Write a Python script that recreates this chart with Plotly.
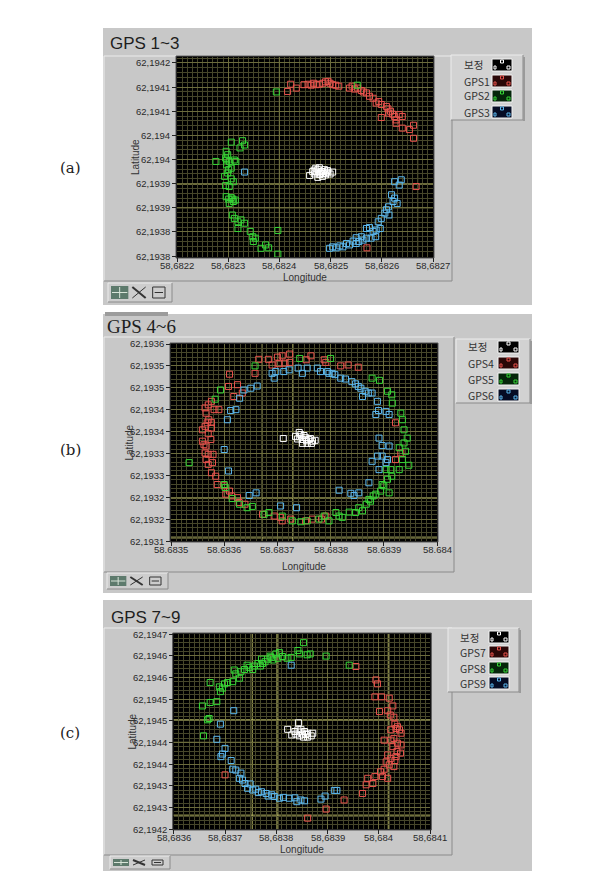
import plotly.graph_objects as go

# ---------------- data ----------------
SERIES_COLORS = ["#ffffff", "#e8534d", "#36d636", "#5cb8ee"]

# Panel (a) GPS 1~3
a_names = ["보정", "GPS1", "GPS2", "GPS3"]
a_ref = [(58.682459, 62.193967), (58.682465, 62.193975), (58.682471, 62.193982), (58.682475, 62.193979),
         (58.682480, 62.193972), (58.682485, 62.193975), (58.682490, 62.193968), (58.682495, 62.193974),
         (58.682499, 62.193970), (58.682504, 62.193974), (58.682475, 62.193963), (58.682484, 62.193965),
         (58.682469, 62.193970), (58.682488, 62.193979), (58.682478, 62.193983), (58.682482, 62.193975),
         (58.682472, 62.193974), (58.682491, 62.193972), (58.682478, 62.193969), (58.682486, 62.193971),
         (58.682494, 62.193977), (58.682468, 62.193978)]
a_gps1 = [(58.682416, 62.194141), (58.682422, 62.194156), (58.682433, 62.194148), (58.682448, 62.194155),
          (58.682456, 62.194156), (58.682462, 62.194154), (58.682467, 62.194158), (58.682472, 62.194155),
          (58.682478, 62.194156), (58.682485, 62.194158), (58.682490, 62.194161), (58.682495, 62.194162),
          (58.682499, 62.194158), (58.682504, 62.194155), (58.682510, 62.194154), (58.682516, 62.194152),
          (58.682537, 62.194148), (58.682542, 62.194152), (58.682547, 62.194146), (58.682553, 62.194148),
          (58.682560, 62.194143), (58.682564, 62.194140), (58.682570, 62.194138), (58.682576, 62.194131),
          (58.682583, 62.194127), (58.682589, 62.194117), (58.682594, 62.194120), (58.682599, 62.194114),
          (58.682609, 62.194110), (58.682612, 62.194105), (58.682617, 62.194100), (58.682621, 62.194094),
          (58.682625, 62.194089), (58.682628, 62.194082), (58.682634, 62.194093), (58.682640, 62.194089),
          (58.682628, 62.194075), (58.682640, 62.194065), (58.682654, 62.194062), (58.682662, 62.194071),
          (58.682662, 62.194044), (58.682667, 62.193944), (58.682571, 62.193817), (58.682599, 62.194087),
          (58.682613, 62.194096)]
a_gps2 = [(58.682394, 62.194140), (58.682552, 62.194154), (58.682397, 62.193853), (58.682397, 62.193804),
          (58.682276, 62.193996), (58.682306, 62.194036), (58.682328, 62.194039), (58.682332, 62.194030),
          (58.682323, 62.194024), (58.682296, 62.194017), (58.682299, 62.194010), (58.682295, 62.194003),
          (58.682302, 62.193996), (58.682297, 62.193989), (58.682306, 62.193982), (58.682315, 62.193996),
          (58.682312, 62.193999), (58.682299, 62.193972), (58.682293, 62.193965), (58.682306, 62.193960),
          (58.682310, 62.193954), (58.682295, 62.193946), (58.682302, 62.193944), (58.682296, 62.193923),
          (58.682301, 62.193918), (58.682306, 62.193921), (58.682310, 62.193913), (58.682314, 62.193916),
          (58.682302, 62.193909), (58.682308, 62.193885), (58.682312, 62.193878), (58.682319, 62.193871),
          (58.682325, 62.193875), (58.682332, 62.193868), (58.682319, 62.193857), (58.682343, 62.193851),
          (58.682348, 62.193840), (58.682353, 62.193837), (58.682349, 62.193830), (58.682364, 62.193816),
          (58.682373, 62.193823), (58.682379, 62.193817), (58.682297, 62.193999), (58.682301, 62.193979),
          (58.682309, 62.193918)]
a_gps3 = [(58.682332, 62.193974), (58.682625, 62.193954), (58.682638, 62.193958), (58.682634, 62.193947),
          (58.682619, 62.193927), (58.682625, 62.193920), (58.682622, 62.193913), (58.682630, 62.193909),
          (58.682613, 62.193902), (58.682609, 62.193896), (58.682606, 62.193889), (58.682614, 62.193885),
          (58.682599, 62.193878), (58.682593, 62.193871), (58.682597, 62.193857), (58.682589, 62.193854),
          (58.682583, 62.193851), (58.682576, 62.193859), (58.682570, 62.193857), (58.682588, 62.193840),
          (58.682579, 62.193837), (58.682570, 62.193837), (58.682563, 62.193833), (58.682555, 62.193830),
          (58.682550, 62.193826), (58.682544, 62.193831), (58.682537, 62.193823), (58.682531, 62.193826),
          (58.682524, 62.193819), (58.682518, 62.193821), (58.682511, 62.193817), (58.682504, 62.193819),
          (58.682498, 62.193816), (58.682560, 62.193840), (58.682550, 62.193838)]
a_xticks = [58.6822, 58.6823, 58.6824, 58.6825, 58.6826, 58.6827]
a_xlabels = ["58,6822", "58,6823", "58,6824", "58,6825", "58,6826", "58,6827"]
a_yticks = [62.19380, 62.19385, 62.19390, 62.19395, 62.19400, 62.19405, 62.19410, 62.19415, 62.19420]
a_ylabels = ["62,1938", "62,1938", "62,1939", "62,1939", "62,194", "62,194", "62,1941", "62,1941", "62,1942"]
a_xrange = [58.6822, 58.6827]
a_yrange = [62.193798, 62.1942124]
a_cursor_lon = [58.6824, 58.68267]
a_cursor_lat = [62.194141, 62.193949, 62.1939]

# Panel (b) GPS 4~6
b_names = ["보정", "GPS4", "GPS5", "GPS6"]
b_ref = [(58.683711, 62.193334), (58.683741, 62.193348), (58.683734, 62.193339), (58.683742, 62.193338),
         (58.683747, 62.193332), (58.683753, 62.193336), (58.683759, 62.193332), (58.683766, 62.193328),
         (58.683771, 62.193330), (58.683747, 62.193323), (58.683756, 62.193323), (58.683764, 62.193323),
         (58.683744, 62.193343), (58.683750, 62.193341), (58.683738, 62.193333), (58.683755, 62.193329),
         (58.683762, 62.193334)]
b_gps4 = [(58.683665, 62.193515), (58.683683, 62.193515), (58.683700, 62.193520), (58.683709, 62.193523),
          (58.683723, 62.193527), (58.683714, 62.193506), (58.683723, 62.193508), (58.683703, 62.193505),
          (58.683690, 62.193502), (58.683658, 62.193483), (58.683610, 62.193481), (58.683754, 62.193514),
          (58.683763, 62.193523), (58.683788, 62.193514), (58.683791, 62.193508), (58.683819, 62.193500),
          (58.683833, 62.193502), (58.683852, 62.193497), (58.683625, 62.193457), (58.683608, 62.193453),
          (58.683634, 62.193438), (58.683618, 62.193430), (58.683576, 62.193419), (58.683570, 62.193411),
          (58.683564, 62.193404), (58.683581, 62.193400), (58.683590, 62.193400), (58.683566, 62.193392),
          (58.683571, 62.193377), (58.683568, 62.193370), (58.683576, 62.193371), (58.683564, 62.193362),
          (58.683559, 62.193354), (58.683570, 62.193345), (58.683576, 62.193358), (58.683559, 62.193328),
          (58.683562, 62.193320), (58.683566, 62.193317), (58.683575, 62.193332), (58.683564, 62.193301),
          (58.683570, 62.193298), (58.683579, 62.193298), (58.683570, 62.193275), (58.683578, 62.193279),
          (58.683566, 62.193286), (58.683576, 62.193256), (58.683584, 62.193248), (58.683587, 62.193229),
          (58.683600, 62.193226), (58.683610, 62.193214), (58.683603, 62.193207), (58.683614, 62.193203),
          (58.683625, 62.193199), (58.683628, 62.193188), (58.683639, 62.193184), (58.683672, 62.193161),
          (58.683694, 62.193157), (58.683706, 62.193154), (58.683725, 62.193150), (58.683709, 62.193146),
          (58.683753, 62.193146), (58.683766, 62.193150), (58.683783, 62.193150), (58.683791, 62.193157),
          (58.683932, 62.193301), (58.683922, 62.193286), (58.683922, 62.193370)]
b_gps5 = [(58.683658, 62.193500), (58.683593, 62.193445), (58.683583, 62.193424), (58.683534, 62.193279),
          (58.683600, 62.193229), (58.683602, 62.193222), (58.683615, 62.193197), (58.683629, 62.193184),
          (58.683643, 62.193176), (58.683653, 62.193179), (58.683675, 62.193161), (58.683684, 62.193165),
          (58.683709, 62.193157), (58.683728, 62.193146), (58.683744, 62.193144), (58.683756, 62.193146),
          (58.683778, 62.193150), (58.683788, 62.193157), (58.683797, 62.193146), (58.683810, 62.193165),
          (58.683816, 62.193157), (58.683822, 62.193154), (58.683835, 62.193166), (58.683847, 62.193165),
          (58.683853, 62.193176), (58.683860, 62.193169), (58.683867, 62.193184), (58.683875, 62.193191),
          (58.683880, 62.193203), (58.683885, 62.193207), (58.683894, 62.193214), (58.683900, 62.193226),
          (58.683910, 62.193210), (58.683897, 62.193229), (58.683907, 62.193241), (58.683915, 62.193248),
          (58.683904, 62.193263), (58.683913, 62.193263), (58.683929, 62.193263), (58.683947, 62.193273),
          (58.683935, 62.193286), (58.683941, 62.193305), (58.683929, 62.193313), (58.683938, 62.193324),
          (58.683944, 62.193335), (58.683938, 62.193354), (58.683935, 62.193377), (58.683932, 62.193392),
          (58.683916, 62.193415), (58.683907, 62.193442), (58.683915, 62.193434), (58.683892, 62.193467),
          (58.683878, 62.193472), (58.683800, 62.193517), (58.683742, 62.193517), (58.683872, 62.193195)]
b_gps6 = [(58.683690, 62.193483), (58.683694, 62.193472), (58.683697, 62.193487), (58.683712, 62.193487),
          (58.683722, 62.193491), (58.683739, 62.193495), (58.683747, 62.193483), (58.683756, 62.193495),
          (58.683775, 62.193495), (58.683781, 62.193487), (58.683794, 62.193487), (58.683797, 62.193483),
          (58.683803, 62.193483), (58.683808, 62.193480), (58.683819, 62.193472), (58.683828, 62.193470),
          (58.683840, 62.193464), (58.683847, 62.193459), (58.683852, 62.193453), (58.683857, 62.193449),
          (58.683865, 62.193442), (58.683871, 62.193438), (58.683878, 62.193438), (58.683860, 62.193430),
          (58.683888, 62.193419), (58.683890, 62.193398), (58.683885, 62.193389), (58.683904, 62.193396),
          (58.683910, 62.193389), (58.683891, 62.193335), (58.683897, 62.193318), (58.683910, 62.193317),
          (58.683888, 62.193294), (58.683897, 62.193294), (58.683907, 62.193286), (58.683904, 62.193279),
          (58.683891, 62.193263), (58.683872, 62.193233), (58.683853, 62.193210), (58.683838, 62.193209),
          (58.683816, 62.193216), (58.683844, 62.193204), (58.683662, 62.193454), (58.683650, 62.193449),
          (58.683637, 62.193445), (58.683629, 62.193426), (58.683612, 62.193398), (58.683622, 62.193400),
          (58.683606, 62.193377), (58.683600, 62.193309), (58.683608, 62.193260), (58.683647, 62.193204),
          (58.683660, 62.193210), (58.683706, 62.193180), (58.683736, 62.193176), (58.683878, 62.193282)]
b_xticks = [58.6835, 58.6836, 58.6837, 58.6838, 58.6839, 58.6840]
b_xlabels = ["58.6835", "58.6836", "58.6837", "58.6838", "58.6839", "58.684"]
b_yticks = [62.19310, 62.19315, 62.19320, 62.19325, 62.19330, 62.19335, 62.19340, 62.19345, 62.19350, 62.19355]
b_ylabels = ["62,1931", "62,1932", "62,1932", "62,1933", "62,1933", "62,1934", "62,1934", "62,1935", "62,1935", "62,1936"]
b_xrange = [58.6835, 58.6840]
b_yrange = [62.19310, 62.19355]
b_cursor_lon = [58.683671, 58.683729]
b_cursor_lat = [62.193198, 62.193107]

# Panel (c) GPS 7~9
c_names = ["보정", "GPS7", "GPS8", "GPS9"]
c_ref = [(58.683843, 62.194495), (58.683822, 62.194480), (58.683830, 62.194467), (58.683836, 62.194475),
         (58.683842, 62.194479), (58.683848, 62.194480), (58.683855, 62.194475), (58.683861, 62.194471),
         (58.683868, 62.194465), (58.683845, 62.194465), (58.683853, 62.194462), (58.683861, 62.194462),
         (58.683838, 62.194469), (58.683851, 62.194469), (58.683871, 62.194471), (58.683846, 62.194474),
         (58.683858, 62.194468)]
c_gps7 = [(58.683955, 62.194625), (58.683994, 62.194594), (58.683997, 62.194585), (58.683992, 62.194555),
          (58.684005, 62.194555), (58.684020, 62.194552), (58.684027, 62.194534), (58.684001, 62.194521),
          (58.684017, 62.194523), (58.684022, 62.194513), (58.684029, 62.194508), (58.684031, 62.194492),
          (58.684036, 62.194486), (58.684040, 62.194479), (58.684033, 62.194482), (58.684023, 62.194479),
          (58.684043, 62.194471), (58.684029, 62.194459), (58.684023, 62.194455), (58.684036, 62.194448),
          (58.684043, 62.194444), (58.684027, 62.194440), (58.684035, 62.194429), (58.684042, 62.194425),
          (58.684017, 62.194421), (58.684023, 62.194413), (58.684031, 62.194408), (58.684014, 62.194405),
          (58.684020, 62.194398), (58.684029, 62.194394), (58.684010, 62.194388), (58.684003, 62.194382),
          (58.683992, 62.194371), (58.684007, 62.194371), (58.684017, 62.194367), (58.683978, 62.194367),
          (58.683988, 62.194355), (58.683975, 62.194352), (58.683968, 62.194332), (58.683932, 62.194317),
          (58.683897, 62.194296), (58.683861, 62.194275), (58.683700, 62.194375), (58.684010, 62.194455),
          (58.684033, 62.194417)]
c_gps8 = [(58.683853, 62.194680), (58.683842, 62.194662), (58.683845, 62.194654), (58.683860, 62.194652),
          (58.683866, 62.194654), (58.683897, 62.194649), (58.683942, 62.194628), (58.683829, 62.194646),
          (58.683821, 62.194644), (58.683812, 62.194648), (58.683806, 62.194657), (58.683799, 62.194654),
          (58.683803, 62.194644), (58.683793, 62.194640), (58.683788, 62.194649), (58.683783, 62.194642),
          (58.683778, 62.194636), (58.683773, 62.194632), (58.683769, 62.194626), (58.683764, 62.194632),
          (58.683757, 62.194626), (58.683754, 62.194618), (58.683747, 62.194623), (58.683743, 62.194628),
          (58.683738, 62.194618), (58.683731, 62.194613), (58.683728, 62.194598), (58.683721, 62.194608),
          (58.683718, 62.194617), (58.683715, 62.194590), (58.683705, 62.194588), (58.683699, 62.194585),
          (58.683695, 62.194575), (58.683691, 62.194567), (58.683689, 62.194578), (58.683671, 62.194588),
          (58.683684, 62.194544), (58.683671, 62.194542), (58.683656, 62.194534), (58.683669, 62.194505),
          (58.683666, 62.194502), (58.683658, 62.194465), (58.683790, 62.194646), (58.683771, 62.194642)]
c_gps9 = [(58.683829, 62.194628), (58.683717, 62.194523), (58.683691, 62.194492), (58.683684, 62.194457),
          (58.683700, 62.194436), (58.683695, 62.194423), (58.683692, 62.194417), (58.683712, 62.194408),
          (58.683715, 62.194388), (58.683721, 62.194386), (58.683731, 62.194379), (58.683728, 62.194367),
          (58.683734, 62.194363), (58.683739, 62.194355), (58.683749, 62.194354), (58.683744, 62.194344),
          (58.683754, 62.194340), (58.683760, 62.194342), (58.683765, 62.194334), (58.683771, 62.194336),
          (58.683780, 62.194332), (58.683784, 62.194326), (58.683791, 62.194329), (58.683796, 62.194325),
          (58.683806, 62.194321), (58.683814, 62.194323), (58.683825, 62.194321), (58.683836, 62.194322),
          (58.683840, 62.194313), (58.683848, 62.194317), (58.683855, 62.194315), (58.683887, 62.194319),
          (58.683895, 62.194326), (58.683913, 62.194339), (58.683918, 62.194339)]
c_xticks = [58.6836, 58.6837, 58.6838, 58.6839, 58.6840, 58.6841]
c_xlabels = ["58,6836", "58,6837", "58,6838", "58,6839", "58,684", "58,6841"]
c_yticks = [62.19425, 62.19430, 62.19435, 62.19440, 62.19445, 62.19450, 62.19455, 62.19460, 62.19465, 62.19470]
c_ylabels = ["62,1942", "62,1943", "62,1943", "62,1944", "62,1944", "62,1945", "62,1945", "62,1946", "62,1946", "62,1947"]
c_xrange = [58.6836, 58.6841]
c_yrange = [62.19425, 62.19470]
c_cursor_lon = [58.683753, 58.683803, 58.684018]
c_cursor_lat = [62.194502, 62.19445, 62.194282]

# ---------------- layout helpers ----------------
# the page body has an 8px margin, so the figure is placed at (8, 8)
OFF = 8
W, H = 602 - 2 * OFF, 889 - 2 * OFF
def X(px): return (px - OFF) / W
def Y(py): return 1 - (py - OFF) / H

shapes, anns = [], []
PANEL = "#c8c8c8"
LIGHT = "#ececec"
DARK = "#8a8a8a"
TXT = "#2a2a2a"
TICKF = "Liberation Sans, Arial, sans-serif"
KR = "Noto Sans CJK KR, Noto Sans, sans-serif"

def rect(x0, y0, x1, y1, fill=None, line=None, lw=1, layer="below"):
    shapes.append(dict(type="rect", xref="paper", yref="paper", x0=X(x0), x1=X(x1), y0=Y(y1), y1=Y(y0),
                       fillcolor=fill or "rgba(0,0,0,0)",
                       line=dict(color=line or "rgba(0,0,0,0)", width=lw if line else 0), layer=layer))

def seg(x0, y0, x1, y1, color, lw=1, layer="below"):
    shapes.append(dict(type="line", xref="paper", yref="paper", x0=X(x0), x1=X(x1), y0=Y(y0), y1=Y(y1),
                       line=dict(color=color, width=lw), layer=layer))

def bevel(x0, y0, x1, y1, raised=True):
    a, b = (LIGHT, DARK) if raised else (DARK, LIGHT)
    seg(x0, y0, x1, y0, a); seg(x0, y0, x0, y1, a)
    seg(x0, y1, x1, y1, b); seg(x1, y0, x1, y1, b)

def text(x, y, s, size=10, color=TXT, family=TICKF, xanchor="center", angle=0):
    anns.append(dict(x=X(x), y=Y(y), xref="paper", yref="paper", text=s, showarrow=False,
                     font=dict(size=size, color=color, family=family), xanchor=xanchor,
                     yanchor="middle", textangle=angle))

SWATCH_BG = ["#000000", "#2a0707", "#05260a", "#050c24"]

panels = [
    dict(series=[a_ref, a_gps1, a_gps2, a_gps3], names=a_names, xt=a_xticks, xl=a_xlabels, yt=a_yticks,
         yl=a_ylabels, xr=a_xrange, yr=a_yrange, cl=a_cursor_lon, ct=a_cursor_lat,
         box=(103, 28, 532, 305), frame=(104, 56, 452, 281), plot=(177, 57, 433, 257),
         tool=(108, 283, 172, 302), legend=(451, 55, 523, 120), rows=[65, 81, 96, 112], lab_x=462, sw_x=(492, 512),
         title="GPS 1~3", title_xy=(108, 44), tfont="Liberation Sans, Arial, sans-serif", tsize=17,
         lat_x=135, lon_y=277, tag="(a)", tag_y=168),
    dict(series=[b_ref, b_gps4, b_gps5, b_gps6], names=b_names, xt=b_xticks, xl=b_xlabels, yt=b_yticks,
         yl=b_ylabels, xr=b_xrange, yr=b_yrange, cl=b_cursor_lon, ct=b_cursor_lat,
         box=(103, 314, 532, 593), frame=(104, 337, 454, 572), plot=(171, 344, 437, 541),
         tool=(107, 573, 168, 589), legend=(456, 339, 530, 403), rows=[347, 363, 379, 395], lab_x=466, sw_x=(498, 519),
         title="GPS 4~6", title_xy=(105, 326), tfont="Liberation Serif, Times New Roman, serif", tsize=19,
         lat_x=129, lon_y=566, tag="(b)", tag_y=450),
    dict(series=[c_ref, c_gps7, c_gps8, c_gps9], names=c_names, xt=c_xticks, xl=c_xlabels, yt=c_yticks,
         yl=c_ylabels, xr=c_xrange, yr=c_yrange, cl=c_cursor_lon, ct=c_cursor_lat,
         box=(103, 600, 532, 871), frame=(104, 628, 452, 855), plot=(173.7, 634, 430.3, 829),
         tool=(110, 856, 170, 869), legend=(448, 628, 519, 692), rows=[637, 652, 668, 683], lab_x=458, sw_x=(489, 509),
         title="GPS 7~9", title_xy=(109, 617), tfont="Liberation Sans, Arial, sans-serif", tsize=17,
         lat_x=132, lon_y=849, tag="(c)", tag_y=733),
]

fig = go.Figure()
layout_axes = {}
for i, p in enumerate(panels):
    n = "" if i == 0 else str(i + 1)
    xa, ya = "x" + n, "y" + n
    bx0, by0, bx1, by1 = p["box"]
    rect(bx0, by0, bx1, by1, fill=PANEL)
    fx0, fy0, fx1, fy1 = p["frame"]
    bevel(fx0, fy0, fx1, fy1)
    px0, py0, px1, py1 = p["plot"]
    rect(px0 - 1, py0 - 1, px1 + 1, py1 + 1, fill="#000000", line="#555555")
    # toolbar
    tx0, ty0, tx1, ty1 = p["tool"]
    rect(tx0, ty0, tx1, ty1, fill="#cdcdcd")
    bevel(tx0, ty0, tx1, ty1)
    iw = (tx1 - tx0 - 6) / 3
    ix = tx0 + 3
    rect(ix, ty0 + 3, ix + iw - 2, ty1 - 3, fill="#5d7a6c")
    seg(ix + (iw - 2) / 2, ty0 + 4, ix + (iw - 2) / 2, ty1 - 4, "#d8e4d8")
    seg(ix + 1, (ty0 + ty1) / 2, ix + iw - 3, (ty0 + ty1) / 2, "#d8e4d8")
    ix2 = ix + iw
    seg(ix2 + 2, ty0 + 4, ix2 + iw - 4, ty1 - 4, "#333", 2)
    seg(ix2 + 2, ty1 - 4, ix2 + iw - 4, ty0 + 4, "#333", 1)
    ix3 = ix2 + iw
    rect(ix3 + 3, ty0 + 4, ix3 + iw - 4, ty1 - 4, line="#333", lw=1)
    seg(ix3 + 5, (ty0 + ty1) / 2, ix3 + iw - 6, (ty0 + ty1) / 2, "#333", 1)
    # legend
    lx0, ly0, lx1, ly1 = p["legend"]
    rect(lx0, ly0, lx1, ly1, fill="#d2d2d2")
    bevel(lx0, ly0, lx1, ly1)
    seg(lx1 + 1, ly0 + 2, lx1 + 1, ly1 + 1, "#9a9a9a", 2)
    sx0, sx1 = p["sw_x"]
    for k, (row, name) in enumerate(zip(p["rows"], p["names"])):
        col = SERIES_COLORS[k]
        rect(sx0, row - 6, sx1, row + 6, fill=SWATCH_BG[k], line="#f4f4f4", lw=1)
        cx = (sx0 + sx1) / 2
        rect(cx - 1.5, row - 5, cx + 1.5, row - 2, line=col, lw=1)
        rect(sx0 + 2, row + 1, sx0 + 4, row + 4, line=col, lw=1)
        rect(sx1 - 5, row + 1, sx1 - 2, row + 4, line=col, lw=1)
        text(p["lab_x"], row, name, size=10.5, color="#333", family=KR, xanchor="left")
    # cursor lines (crosshairs)
    for v in p["cl"]:
        shapes.append(dict(type="line", xref=xa, yref="paper", x0=v, x1=v, y0=Y(py1), y1=Y(py0),
                           line=dict(color="#b4b462", width=1), layer="between"))
    for v in p["ct"]:
        shapes.append(dict(type="line", xref="paper", yref=ya, x0=X(px0), x1=X(px1), y0=v, y1=v,
                           line=dict(color="#b4b462", width=1), layer="between"))
    # tick labels positioned through the axes' own scales
    for v, s in zip(p["xt"], p["xl"]):
        anns.append(dict(x=v, xref=xa, y=Y(py1 + 8), yref="paper", text=s, showarrow=False,
                         font=dict(size=9.5, color=TXT, family=TICKF), xanchor="center", yanchor="middle"))
    for v, s in zip(p["yt"], p["yl"]):
        anns.append(dict(x=X(px0 - 5), xref="paper", y=v, yref=ya, text=s, showarrow=False,
                         font=dict(size=9.5, color=TXT, family=TICKF), xanchor="right", yanchor="middle"))
    # texts
    tx, ty = p["title_xy"]
    text(tx, ty, p["title"], size=p["tsize"], color="#1e1e1e", family=p["tfont"], xanchor="left")
    text(p["lat_x"], (py0 + py1) / 2, "Latitude", size=10, color="#333", angle=-90)
    text((px0 + px1) / 2, p["lon_y"], "Longitude", size=10, color="#333")
    text(70, p["tag_y"], p["tag"], size=15, color="#222", family="DejaVu Serif, Liberation Serif, serif")

    # series
    for k in [1, 2, 3, 0]:
        pts = p["series"][k]
        fig.add_trace(go.Scatter(
            x=[q[0] for q in pts], y=[q[1] for q in pts], mode="markers", name=p["names"][k],
            xaxis=xa, yaxis=ya, showlegend=False, hoverinfo="skip",
            marker=dict(symbol="square-open", size=6, color=SERIES_COLORS[k],
                        line=dict(width=1, color=SERIES_COLORS[k]))))

    common = dict(tickmode="array", ticks="outside", ticklen=4, tickcolor="#222", tickwidth=1,
                  showticklabels=False, showgrid=True,
                  gridcolor="#6c6c3c", gridwidth=1, zeroline=False, showline=False, fixedrange=True,
                  automargin=False)
    layout_axes["xaxis" + n] = dict(common, domain=[X(px0), X(px1)], range=p["xr"], tickvals=p["xt"],
                                    anchor=ya,
                                    minor=dict(tickmode="linear", tick0=p["xr"][0], dtick=0.00001,
                                               showgrid=True, gridcolor="#46462a", gridwidth=1))
    layout_axes["yaxis" + n] = dict(common, domain=[Y(py1), Y(py0)], range=p["yr"], tickvals=p["yt"],
                                    anchor=xa,
                                    minor=dict(tickmode="linear", tick0=p["yt"][0], dtick=0.00001,
                                               showgrid=True, gridcolor="#46462a", gridwidth=1))

# small remnant bar above panel (b)
rect(105, 312, 168, 316, fill="#9c9c9c")

fig.update_layout(width=W, height=H, margin=dict(l=0, r=0, t=0, b=0), template="none",
                  paper_bgcolor="white", plot_bgcolor="rgba(0,0,0,0)", showlegend=False,
                  shapes=shapes, annotations=anns, **layout_axes)
fig.write_html("out.html")
